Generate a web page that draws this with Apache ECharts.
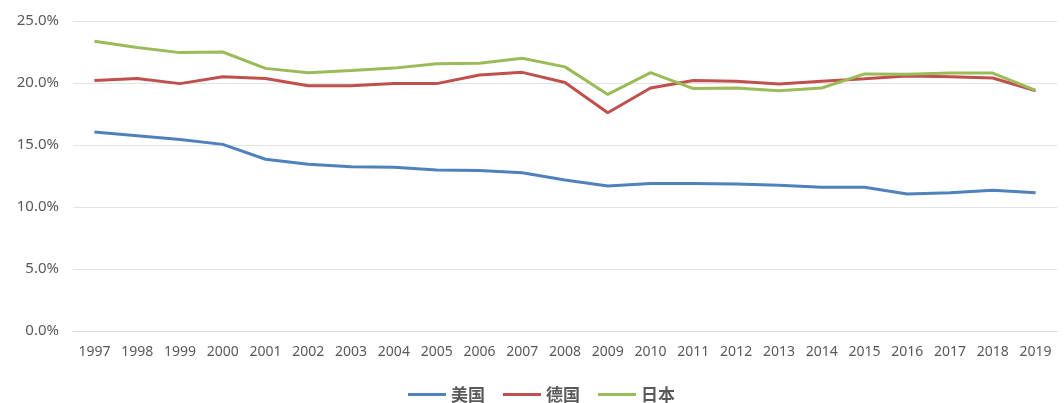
<!DOCTYPE html>
<html><head><meta charset="utf-8">
<script src="https://cdn.jsdelivr.net/npm/echarts@6/dist/echarts.min.js"></script>
<style>html,body{margin:0;padding:0;background:#fff}#c{width:1064px;height:403px}</style>
</head><body><div id="c"></div>
<script>
const years = ['1997','1998','1999','2000','2001','2002','2003','2004','2005','2006','2007','2008','2009','2010','2011','2012','2013','2014','2015','2016','2017','2018','2019'];
const usa = [16.05,15.75,15.45,15.05,13.85,13.44,13.25,13.2,12.98,12.95,12.77,12.18,11.69,11.9,11.9,11.85,11.75,11.6,11.6,11.05,11.15,11.35,11.15];
const germany = [20.2,20.36,19.95,20.5,20.36,19.78,19.78,19.95,19.95,20.65,20.86,20.04,17.6,19.6,20.2,20.15,19.92,20.15,20.35,20.56,20.5,20.4,19.38];
const japan = [23.36,22.87,22.45,22.5,21.18,20.83,21.0,21.2,21.55,21.6,22.0,21.3,19.08,20.83,19.55,19.6,19.38,19.6,20.73,20.7,20.8,20.8,19.4];
const seriesNames = ['美国','德国','日本'];
const colors = ['#4F81BD','#C0504D','#9BBB59'];
const chart = echarts.init(document.getElementById('c'));
const mk = (name, data, color) => ({
  name, type:'line', data, symbol:'none', smooth:false,
  lineStyle:{width:3,color}, itemStyle:{color}
});
chart.setOption({
  animation:false,
  grid:{left:73,right:7,top:21,bottom:72},
  legend:{
    top:381, left:403, itemWidth:38, itemHeight:3, itemGap:18,
    icon:'rect',
    textStyle:{fontFamily:'Noto Sans CJK SC',fontSize:17,fontWeight:'bold',color:'#595959'},
    data:seriesNames
  },
  xAxis:{
    type:'category', data:years, boundaryGap:true,
    axisLine:{lineStyle:{color:'#d9d9d9'}}, axisTick:{show:false},
    axisLabel:{color:'#595959',fontSize:14,fontFamily:'Noto Sans',margin:14,interval:0}
  },
  yAxis:{
    type:'value', min:0, max:25, interval:5,
    axisLine:{show:false}, axisTick:{show:false},
    splitLine:{lineStyle:{color:'#e3e3e3'}},
    axisLabel:{color:'#595959',fontSize:15,fontFamily:'Noto Sans',margin:14,formatter:v=>v.toFixed(1)+'%'}
  },
  series:[mk(seriesNames[0],usa,colors[0]),mk(seriesNames[1],germany,colors[1]),mk(seriesNames[2],japan,colors[2])]
});
</script></body></html>
